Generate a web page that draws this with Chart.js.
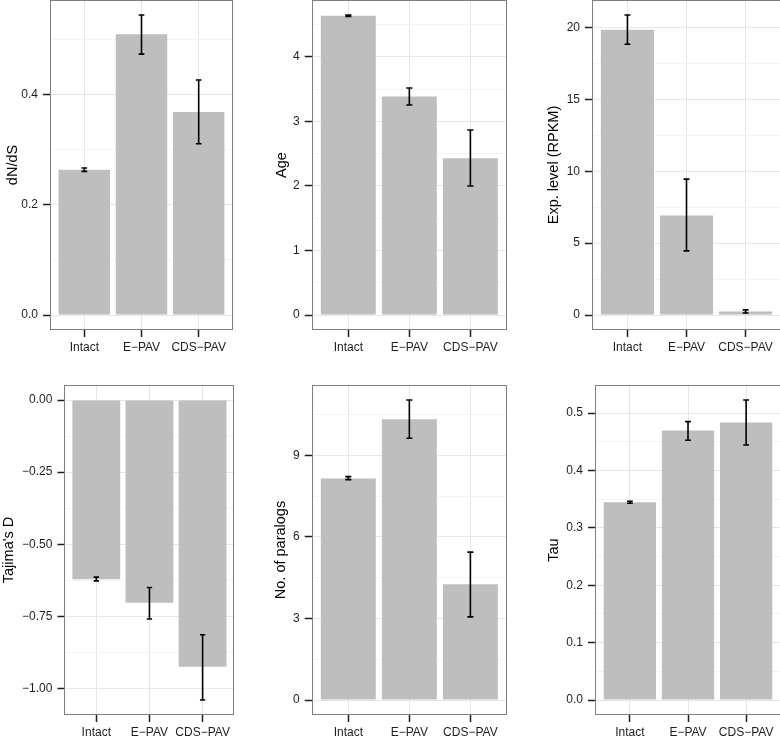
<!DOCTYPE html>
<html>
<head>
<meta charset="utf-8">
<script src="https://cdn.jsdelivr.net/npm/chart.js@4.4.1/dist/chart.umd.min.js"></script>
<style>
html, body { margin: 0; padding: 0; background: #fff; width: 780px; height: 739px; overflow: hidden; }
canvas { position: absolute; }
</style>
</head>
<body>
<canvas id="c1" width="260" height="370" style="left:0;top:0"></canvas>
<canvas id="c2" width="260" height="370" style="left:260px;top:0"></canvas>
<canvas id="c3" width="262" height="370" style="left:520px;top:0"></canvas>
<canvas id="c4" width="260" height="369" style="left:0;top:370px"></canvas>
<canvas id="c5" width="260" height="369" style="left:260px;top:370px"></canvas>
<canvas id="c6" width="262" height="369" style="left:520px;top:370px"></canvas>
<script>
// categories shared by all panels
var categories = ['Intact', 'E\u2212PAV', 'CDS\u2212PAV'];

// dN/dS
var dnds = [0.264, 0.510, 0.369];
var dndsLow = [0.261, 0.474, 0.311];
var dndsHigh = [0.267, 0.545, 0.427];
var dndsTicks = [0, 0.2, 0.4];

// Age
var age = [4.64, 3.386, 2.43];
var ageLow = [4.627, 3.256, 2.0];
var ageHigh = [4.651, 3.52, 2.868];
var ageTicks = [0, 1, 2, 3, 4];

// Exp. level (RPKM)
var expLevel = [19.86, 6.93, 0.24];
var expLow = [18.84, 4.46, 0.14];
var expHigh = [20.88, 9.46, 0.36];
var expTicks = [0, 5, 10, 15, 20];

// Tajima's D
var tajima = [-0.621, -0.703, -0.925];
var tajimaLow = [-0.627, -0.759, -1.04];
var tajimaHigh = [-0.614, -0.650, -0.814];
var tajimaTicks = [-1, -0.75, -0.5, -0.25, 0];

// No. of paralogs
var paralogs = [8.15, 10.33, 4.26];
var paralogsLow = [8.11, 9.63, 3.06];
var paralogsHigh = [8.22, 11.04, 5.44];
var paralogsTicks = [0, 3, 6, 9];

// Tau
var tau = [0.3447, 0.4695, 0.4834];
var tauLow = [0.3429, 0.4526, 0.4444];
var tauHigh = [0.3464, 0.485, 0.5227];
var tauTicks = [0, 0.1, 0.2, 0.3, 0.4, 0.5];

var FONT = '"Liberation Sans", Arial, Helvetica, sans-serif';

var errorBars = {
  id: 'errorBars',
  afterDatasetsDraw: function(chart) {
    var ds = chart.data.datasets[0];
    var xs = chart.scales.x, ys = chart.scales.y, ctx = chart.ctx;
    ctx.save();
    ctx.strokeStyle = '#000';
    ctx.lineWidth = 1.6;
    ds.data.forEach(function(pt, i) {
      var px = xs.getPixelForValue(pt.x);
      var cap = xs.getPixelForValue(pt.x + 0.05) - px;
      var yl = ys.getPixelForValue(ds.errLow[i]);
      var yh = ys.getPixelForValue(ds.errHigh[i]);
      ctx.beginPath();
      ctx.moveTo(px, yl); ctx.lineTo(px, yh);
      ctx.moveTo(px - cap, yl); ctx.lineTo(px + cap, yl);
      ctx.moveTo(px - cap, yh); ctx.lineTo(px + cap, yh);
      ctx.stroke();
    });
    ctx.restore();
  }
};

var panelBorder = {
  id: 'panelBorder',
  afterDraw: function(chart) {
    var a = chart.chartArea, ctx = chart.ctx;
    ctx.save();
    ctx.strokeStyle = '#7f7f7f';
    ctx.lineWidth = 1;
    ctx.strokeRect(Math.round(a.left) + 0.5, Math.round(a.top) + 0.5,
      Math.round(a.right - a.left) - 1, Math.round(a.bottom - a.top) - 1);
    ctx.restore();
  }
};

function isMajor(v, majors) {
  return majors.some(function(m) { return Math.abs(m - v) < 1e-9; });
}

function makePanel(id, title, values, low, high, majors, decimals, lay) {
  var lo = Math.min(0, Math.min.apply(null, low));
  var hi = Math.max(0, Math.max.apply(null, high));
  var pad = (hi - lo) * 0.05;
  var step = majors[1] - majors[0];

  new Chart(document.getElementById(id), {
    type: 'bar',
    data: {
      datasets: [{
        data: values.map(function(v, i) { return {x: i + 1, y: v}; }),
        errLow: low,
        errHigh: high,
        backgroundColor: '#bebebe',
        borderWidth: 0,
        categoryPercentage: 0.9,
        barPercentage: 1
      }]
    },
    options: {
      responsive: false,
      animation: false,
      layout: { padding: { left: 0, top: lay.padTop, right: lay.padRight, bottom: 0 } },
      plugins: { legend: { display: false }, tooltip: { enabled: false } },
      scales: {
        x: {
          type: 'linear',
          min: 0.4,
          max: 3.6,
          bounds: 'data',
          offset: false,
          afterBuildTicks: function(s) {
            s.ticks = categories.map(function(c, i) { return {value: i + 1}; });
          },
          afterFit: function(s) { s.height = lay.xHeight; s.paddingLeft = 0; s.paddingRight = 0; },
          border: { display: false },
          grid: { offset: false, color: '#e6e6e6', lineWidth: 1, tickLength: 7, tickColor: '#1e1e1e', tickWidth: 1.5 },
          ticks: {
            autoSkip: false, maxRotation: 0, padding: 3,
            color: '#1e1e1e', font: { family: FONT, size: 12 },
            callback: function(v) { return categories[Math.round(v) - 1]; }
          }
        },
        y: {
          type: 'linear',
          min: lo - pad,
          max: hi + pad,
          bounds: 'data',
          afterBuildTicks: function(s) {
            var t = [];
            var first = majors[0] - step / 2;
            for (var k = 0; k <= majors.length * 2 + 1; k++) {
              var v = Math.round((first + k * step / 2) * 1e9) / 1e9;
              if (v >= s.min && v <= s.max) t.push({value: v, isMajor: isMajor(v, majors)});
            }
            s.ticks = t;
          },
          afterFit: function(s) { s.width = lay.yWidth; s.paddingTop = 0; s.paddingBottom = 0; },
          border: { display: false },
          grid: {
            lineWidth: 1,
            tickLength: 7,
            tickWidth: 1.5,
            color: function(c) { return c.tick && c.tick.isMajor ? '#e6e6e6' : '#f4f4f4'; },
            tickColor: function(c) { return c.tick && c.tick.isMajor ? '#1e1e1e' : 'rgba(0,0,0,0)'; }
          },
          ticks: {
            padding: 5,
            color: '#1e1e1e', font: { family: FONT, size: 12 },
            callback: function(v) {
              if (!isMajor(v, majors)) return '';
              return v.toFixed(decimals).replace('-', '\u2212');
            }
          },
          title: {
            display: true, text: title, color: '#000',
            font: { family: FONT, size: 14.5, lineHeight: 1.2 },
            padding: { top: lay.titleCenter - 8.7, bottom: 0 }
          }
        }
      }
    },
    plugins: [errorBars, panelBorder]
  });
}

makePanel('c1', 'dN/dS', dnds, dndsLow, dndsHigh, dndsTicks, 1,
  { padTop: 0, padRight: 27, yWidth: 50, xHeight: 40, titleCenter: 13 });
makePanel('c2', 'Age', age, ageLow, ageHigh, ageTicks, 0,
  { padTop: 0, padRight: 13, yWidth: 51.7, xHeight: 40, titleCenter: 22 });
makePanel('c3', 'Exp. level (RPKM)', expLevel, expLow, expHigh, expTicks, 0,
  { padTop: 0, padRight: 1, yWidth: 72, xHeight: 40, titleCenter: 34 });
makePanel('c4', "Tajima's D", tajima, tajimaLow, tajimaHigh, tajimaTicks, 2,
  { padTop: 15, padRight: 25.5, yWidth: 64.4, xHeight: 24, titleCenter: 9 });
makePanel('c5', 'No. of paralogs', paralogs, paralogsLow, paralogsHigh, paralogsTicks, 0,
  { padTop: 15, padRight: 13, yWidth: 51.7, xHeight: 24, titleCenter: 21 });
makePanel('c6', 'Tau', tau, tauLow, tauHigh, tauTicks, 1,
  { padTop: 15, padRight: 1, yWidth: 75, xHeight: 24, titleCenter: 34 });
</script>
</body>
</html>
